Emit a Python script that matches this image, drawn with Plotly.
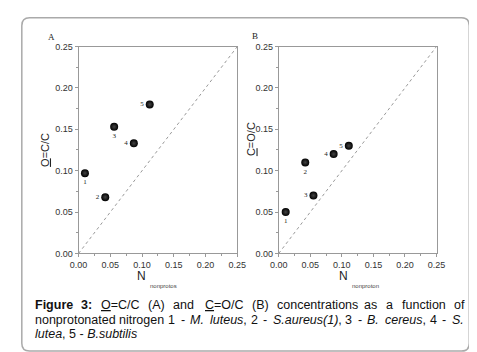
import plotly.graph_objects as go

# ---- data ----
labels = ["1", "2", "3", "4", "5"]
xa = [0.010, 0.042, 0.056, 0.087, 0.112]
ya = [0.097, 0.068, 0.153, 0.133, 0.180]
xb = [0.011, 0.042, 0.055, 0.087, 0.111]
yb = [0.050, 0.110, 0.070, 0.120, 0.130]
pos_a = ["bottom center", "middle left", "bottom center", "middle left", "middle left"]
pos_b = ["bottom center", "bottom center", "middle left", "middle left", "middle left"]
diag = [0.0, 0.25]
tickvals = [0.00, 0.05, 0.10, 0.15, 0.20, 0.25]

# caption words: (html, plain text, bold)
caption_line1 = [("<b>Figure</b>", "Figure", True), ("<b>3:</b>", "3:", True),
                 ("<u>O</u>=C/C", "O=C/C", False), ("(A)", "(A)", False), ("and", "and", False),
                 ("<u>C</u>=O/C", " C=O/C", False), ("(B)", "(B)", False),
                 ("concentrations", "concentrations", False), ("as", "as", False),
                 ("a", "a", False), ("function", "function", False), ("of", "of", False)]
caption_line2 = [("nonprotonated", "nonprotonated", False), ("nitrogen", "nitrogen", False),
                 ("1", "1", False), ("-", "-", False), ("<i>M.</i>", "M.", False),
                 ("<i>luteus</i>,", "luteus,", False), ("2", "2", False), ("-", "-", False),
                 ("<i>S.aureus(1)</i>,", "S.aureus(1),", False), ("3", "3", False),
                 ("-", "-", False), ("<i>B.</i>", "B.", False), ("<i>cereus</i>,", "cereus,", False),
                 ("4", "4", False), ("-", "-", False), ("<i>S.</i>", "S.", False)]
caption_line3 = "<i>lutea</i>, 5 - <i>B.subtilis</i>"

W, H = 477, 352
fig = go.Figure()

marker = dict(size=8, color="black", line=dict(width=0),
              gradient=dict(type="radial", color="#444"))
lab_font = dict(family="Liberation Serif, Times New Roman", size=7, color="#222")

for (xs, ys, pos, xa_, ya_) in [(xa, ya, pos_a, "x", "y"), (xb, yb, pos_b, "x2", "y2")]:
    fig.add_trace(go.Scatter(x=diag, y=diag, mode="lines", xaxis=xa_, yaxis=ya_,
                             line=dict(color="#999", width=1, dash="dot"),
                             showlegend=False, hoverinfo="skip"))
    fig.add_trace(go.Scatter(x=xs, y=ys, mode="markers+text", text=labels,
                             textposition=pos, textfont=lab_font, xaxis=xa_, yaxis=ya_,
                             marker=marker, showlegend=False))

axis_common = dict(range=[0, 0.25], tickvals=tickvals, tickformat=".2f",
                   showgrid=False, zeroline=False, showline=True, linecolor="#999",
                   linewidth=1, mirror=True, ticks="outside", ticklen=3, tickcolor="#999",
                   tickfont=dict(family="Liberation Sans, Arial", size=9, color="#333"),
                   minor=dict(ticks="outside", ticklen=2, tickcolor="#999", dtick=0.025),
                   fixedrange=True)

ydom = [0.297, 0.902]
fig.update_layout(
    width=W, height=H, margin=dict(l=0, r=0, t=0, b=0),
    paper_bgcolor="white", plot_bgcolor="white",
    xaxis=dict(domain=[64 / W, 229 / W], anchor="y", **axis_common),
    yaxis=dict(domain=ydom, anchor="x", **axis_common),
    xaxis2=dict(domain=[272 / W, 436 / W], anchor="y2", **axis_common),
    yaxis2=dict(domain=ydom, anchor="x2", **axis_common),
)

def px(x):
    return x / W

def py(y):
    return 1 - y / H

sans = "Liberation Sans, Arial"
ann = []
# panel letters
ann.append(dict(text="A", x=px(36), y=py(25), font=dict(family="Liberation Serif", size=9, color="#222")))
ann.append(dict(text="B", x=px(247), y=py(24), font=dict(family="Liberation Serif", size=9, color="#222")))
# y titles
ann.append(dict(text="<u>O</u>=C/C", x=px(29), y=py(141), textangle=-90,
                font=dict(family=sans, size=11, color="#222")))
ann.append(dict(text="<u>C</u>=O/C", x=px(244), y=py(130), textangle=-90,
                font=dict(family=sans, size=11, color="#222")))
# x titles (N with small subscript)
ann.append(dict(text="N", x=px(135), y=py(271), xanchor="right", borderpad=0,
                font=dict(family=sans, size=12, color="#222")))
ann.append(dict(text="nonprotos", x=px(137), y=py(281), xanchor="left", borderpad=0,
                font=dict(family=sans, size=6, color="#444")))
ann.append(dict(text="N", x=px(345), y=py(271), xanchor="right", borderpad=0,
                font=dict(family=sans, size=12, color="#222")))
ann.append(dict(text="nonproton", x=px(347), y=py(281), xanchor="left", borderpad=0,
                font=dict(family=sans, size=6, color="#444")))

# ---- justified caption (Arial metrics, per 1000 em) ----
REG = dict(zip("abcdefghijklmnopqrstuvwxyz",
               [556, 556, 500, 556, 556, 278, 556, 556, 222, 222, 500, 222, 833,
                556, 556, 556, 556, 333, 500, 278, 556, 500, 722, 500, 500, 500]))
REG.update({"A": 667, "B": 667, "C": 722, "M": 833, "O": 778, "S": 667, "F": 611,
            ".": 278, ",": 278, ":": 278, "-": 333, "(": 333, ")": 333, "/": 278,
            "=": 584, " ": 278})
for d in "0123456789":
    REG[d] = 556
BOLD = dict(REG)
BOLD.update({"g": 611, "u": 611, "r": 389, "i": 278, ":": 333, "F": 611})

FS = 12.5
cap_font = dict(family=sans, size=FS, color="#111")

def width(txt, bold):
    tab = BOLD if bold else REG
    return sum(tab.get(c, 556) for c in txt) * FS / 1000.0

def justify(words, y, x_start=18, x_end=463):
    ws = [width(p, b) for _, p, b in words]
    gap = (x_end - x_start - sum(ws)) / (len(words) - 1)
    x = x_start
    for (html, plain, b), w in zip(words, ws):
        lead = width(" ", False) if plain.startswith(" ") else 0
        ann.append(dict(text=html, x=px(x + lead - 1), y=py(y), xanchor="left", font=cap_font))
        x += w + gap

justify(caption_line1, 301)
justify(caption_line2, 316)
ann.append(dict(text=caption_line3, x=px(17), y=py(330), xanchor="left", font=cap_font))

for a in ann:
    a.setdefault("xanchor", "center")
    a.update(xref="paper", yref="paper", yanchor="middle", showarrow=False)
fig.update_layout(annotations=ann)

# rounded border
x0, y0, x1, y1 = px(5), py(348), px(470), py(5)
rx, ry = 8 / W, 8 / H
path = (f"M {x0+rx},{y0} L {x1-rx},{y0} Q {x1},{y0} {x1},{y0+ry} L {x1},{y1-ry} "
        f"Q {x1},{y1} {x1-rx},{y1} L {x0+rx},{y1} Q {x0},{y1} {x0},{y1-ry} "
        f"L {x0},{y0+ry} Q {x0},{y0} {x0+rx},{y0} Z")
fig.add_shape(type="path", path=path, xref="paper", yref="paper",
              line=dict(color="#aaa", width=1.5))

fig.write_html("out.html")
